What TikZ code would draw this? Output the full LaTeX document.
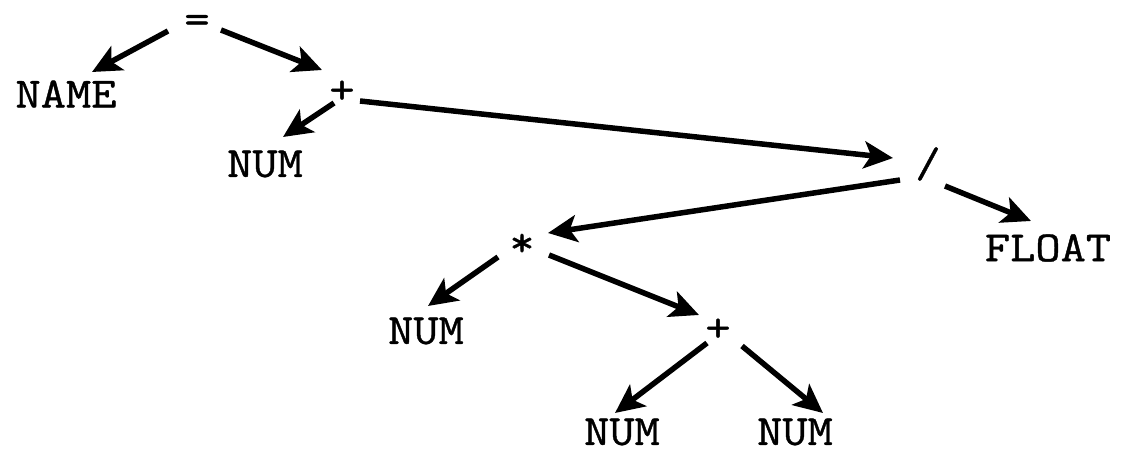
\documentclass[tikz,border=0pt]{standalone}
\usepackage{fontspec}
\newfontfamily\lbfont[FakeBold=0.9,FakeStretch=1.14]{Latin Modern Mono}
\usetikzlibrary{arrows.meta}
\begin{document}
\begin{tikzpicture}[x=1pt,y=-1pt,
  lbl/.style={font=\lbfont\fontsize{43}{43}\selectfont, inner sep=0pt},
  arr/.style={line width=5.5pt, -{Stealth[length=29pt,width=27pt,inset=7pt]}}]
\useasboundingbox (0,0) rectangle (1121,462);
\node[lbl] (eq)    at (197,24)  {=};
\node[lbl] (name)  at (66,94)   {NAME};
\node[lbl] (plA)   at (342,92)  {+};
\node[lbl] (numA)  at (265,164) {NUM};
\node[lbl] (div)   at (928,164) {/};
\node[lbl] (mul)   at (522,245) {*};
\node[lbl] (flt)   at (1048,248){FLOAT};
\node[lbl] (numB)  at (426,331) {NUM};
\node[lbl] (plB)   at (718,330) {+};
\node[lbl] (numC)  at (622,432) {NUM};
\node[lbl] (numD)  at (795,432) {NUM};
\draw[arr] ([shift={(-29,7)}]eq.center) -- ([shift={(26,-22)}]name.center);
\draw[arr] ([shift={(24,6)}]eq.center) -- ([shift={(-20,-22)}]plA.center);
\draw[arr] ([shift={(-8,11)}]plA.center) -- ([shift={(18,-27)}]numA.center);
\draw[arr] ([shift={(18,9)}]plA.center) -- ([shift={(-35,-6)}]div.center);
\draw[arr] ([shift={(-28,16)}]div.center) -- ([shift={(26,-12)}]mul.center);
\draw[arr] ([shift={(17,22)}]div.center) -- ([shift={(-17,-27)}]flt.center);
\draw[arr] ([shift={(-24,12)}]mul.center) -- ([shift={(2,-25)}]numB.center);
\draw[arr] ([shift={(27,10)}]mul.center) -- ([shift={(-19,-15)}]plB.center);
\draw[arr] ([shift={(-11,13)}]plB.center) -- ([shift={(-7,-19)}]numC.center);
\draw[arr] ([shift={(24,16)}]plB.center) -- ([shift={(28,-19)}]numD.center);
\end{tikzpicture}
\end{document}
